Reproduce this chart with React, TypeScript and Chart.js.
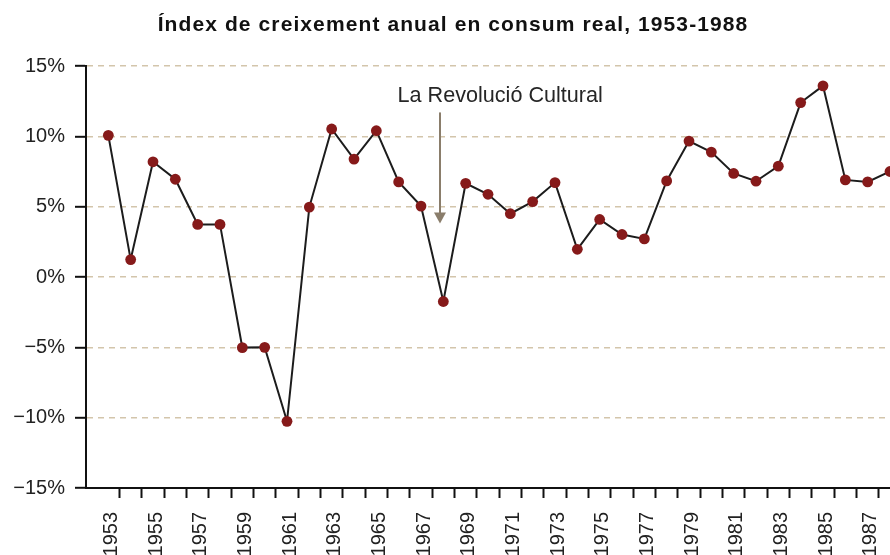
import { useEffect, useRef } from 'react';
import { Chart, registerables } from 'chart.js';

Chart.register(...registerables);

const TITLE = 'Índex de creixement anual en consum real, 1953-1988';
const ANNOTATION = 'La Revolució Cultural';

const years = [
  1953, 1954, 1955, 1956, 1957, 1958, 1959, 1960, 1961, 1962, 1963, 1964,
  1965, 1966, 1967, 1968, 1969, 1970, 1971, 1972, 1973, 1974, 1975, 1976,
  1977, 1978, 1979, 1980, 1981, 1982, 1983, 1984, 1985, 1986, 1987, 1988,
];

const growth = [
  10.07, 1.24, 8.19, 6.95, 3.74, 3.74, -5.02, -5.0, -10.26, 4.97, 10.52, 8.38,
  10.4, 6.76, 5.04, -1.74, 6.66, 5.88, 4.5, 5.36, 6.71, 1.97, 4.09, 3.02,
  2.71, 6.83, 9.66, 8.88, 7.36, 6.81, 7.88, 12.4, 13.59, 6.9, 6.76, 7.5,
];

const xTickLabels = [
  '1953', '1955', '1957', '1959', '1961', '1963', '1965', '1967', '1969',
  '1971', '1973', '1975', '1977', '1979', '1981', '1983', '1985', '1987',
];

const yTickValues = [-15, -10, -5, 0, 5, 10, 15];
const yTickLabels = ['\u221215%', '\u221210%', '\u22125%', '0%', '5%', '10%', '15%'];

// annotation anchor (data units)
const arrowYear = 1967.85;
const arrowFrom = 11.7;
const arrowTo = 3.8;
const annotYear = 1965.95;
const annotLevel = 12.85;

const FONT = 'Liberation Sans';

export default function App() {
  const ref = useRef<HTMLCanvasElement>(null);

  useEffect(() => {
    const canvas = ref.current;
    if (!canvas) return;

    const annotationPlugin = {
      id: 'revolucioAnnotation',
      afterDatasetsDraw(chart: any) {
        const { ctx, scales } = chart;
        const xs = scales.x;
        const ys = scales.y;
        const ax = xs.getPixelForValue(arrowYear);
        const y1 = ys.getPixelForValue(arrowFrom);
        const y2 = ys.getPixelForValue(arrowTo);
        ctx.save();
        ctx.strokeStyle = '#8a7d6b';
        ctx.fillStyle = '#8a7d6b';
        ctx.lineWidth = 2;
        ctx.beginPath();
        ctx.moveTo(ax, y1);
        ctx.lineTo(ax, y2 - 9);
        ctx.stroke();
        ctx.beginPath();
        ctx.moveTo(ax - 6, y2 - 11);
        ctx.lineTo(ax + 6, y2 - 11);
        ctx.lineTo(ax, y2);
        ctx.closePath();
        ctx.fill();
        ctx.font = `21.6px "${FONT}"`;
        ctx.fillStyle = '#262626';
        ctx.textAlign = 'left';
        ctx.textBaseline = 'middle';
        ctx.fillText(ANNOTATION, xs.getPixelForValue(annotYear), ys.getPixelForValue(annotLevel));
        ctx.restore();
      },
    };

    const titlePlugin = {
      id: 'spacedTitle',
      afterDraw(chart: any) {
        const { ctx } = chart;
        ctx.save();
        ctx.font = `bold 21px "${FONT}"`;
        (ctx as any).letterSpacing = '1.1px';
        ctx.fillStyle = '#111';
        ctx.textAlign = 'center';
        ctx.textBaseline = 'alphabetic';
        ctx.fillText(TITLE, 453, 31);
        ctx.restore();
      },
    };

    const tickFont = { family: FONT, size: 20 };

    const chart = new Chart(canvas, {
      type: 'line',
      data: {
        datasets: [
          {
            data: years.map((yr, i) => ({ x: yr, y: growth[i] })),
            borderColor: '#1c1c1c',
            borderWidth: 2,
            pointRadius: 5.4,
            pointHoverRadius: 5.4,
            pointBackgroundColor: '#861a1a',
            pointBorderWidth: 0,
            tension: 0,
            clip: false,
          },
        ],
      },
      options: {
        responsive: false,
        devicePixelRatio: 1,
        animation: false,
        events: [],
        layout: { autoPadding: false, padding: { top: 66, left: 0, right: 0, bottom: 0 } },
        plugins: {
          legend: { display: false },
          title: { display: false },
          tooltip: { enabled: false },
        },
        scales: {
          x: {
            type: 'linear',
            min: 1952,
            max: 1988,
            afterBuildTicks: (s: any) => {
              s.ticks = years.slice(0, -1).map((yr) => ({ value: yr + 0.5 }));
            },
            afterFit: (s: any) => {
              s.height = 67;
              s.paddingLeft = 0;
              s.paddingRight = 0;
            },
            ticks: {
              autoSkip: false,
              maxRotation: 90,
              minRotation: 90,
              labelOffset: -8,
              padding: 14,
              font: tickFont,
              color: '#222',
              callback: (v: any) => {
                const t = String(Math.round(Number(v) - 0.5));
                return xTickLabels.includes(t) ? t : '';
              },
            },
            grid: {
              drawOnChartArea: false,
              drawTicks: true,
              tickLength: 10,
              tickColor: '#111',
              tickWidth: 2,
              color: '#111',
            },
            border: { display: true, color: '#111', width: 2 },
          },
          y: {
            type: 'linear',
            min: -15,
            max: 15,
            afterBuildTicks: (s: any) => {
              s.ticks = yTickValues.map((v) => ({ value: v }));
            },
            afterFit: (s: any) => {
              s.width = 86;
              s.paddingTop = 0;
              s.paddingBottom = 0;
            },
            ticks: {
              padding: 10,
              font: tickFont,
              color: '#222',
              callback: (v: any) => {
                const i = yTickValues.indexOf(Number(v));
                return i >= 0 ? yTickLabels[i] : '';
              },
            },
            grid: {
              color: (c: any) => (c.tick && c.tick.value === -15 ? 'rgba(0,0,0,0)' : '#d3c5ab'),
              lineWidth: 1.6,
              tickColor: '#111',
              tickWidth: 2,
              tickLength: 11,
              tickBorderDash: [],
            },
            border: { display: true, color: '#111', width: 2, dash: [6, 5] },
          },
        },
      },
      plugins: [annotationPlugin, titlePlugin],
    } as any);

    return () => chart.destroy();
  }, []);

  return (
    <div style={{ position: 'fixed', left: 0, top: 0, width: 890, height: 555, background: '#fff' }}>
      <canvas ref={ref} width={890} height={555} style={{ display: 'block' }} />
    </div>
  );
}
